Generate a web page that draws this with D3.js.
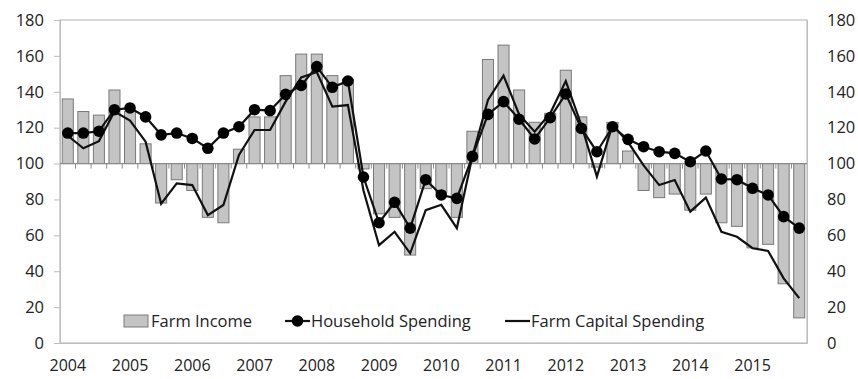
<!DOCTYPE html>
<html>
<head>
<meta charset="utf-8">
<script src="https://cdn.jsdelivr.net/npm/d3@7"></script>
<style>
  html, body { margin: 0; padding: 0; background: #fff; }
  svg { display: block; }
  text { font-family: "Open Sans", sans-serif; fill: #222; }
</style>
</head>
<body>
<svg id="chart" width="858" height="379"></svg>
<script>
const years = ["2004","2005","2006","2007","2008","2009","2010","2011","2012","2013","2014","2015"];
const quarters = years.flatMap(y => ["Q1","Q2","Q3","Q4"].map(q => y + q));
const yTicks = [0, 20, 40, 60, 80, 100, 120, 140, 160, 180];
const baseline = 100;

const farmIncome = [136,129,127,141, 129,111,78,91, 85,70,67,108, 126,126,149,161,
                    161,149,147,97, 72,70,49,86, 84,70,118,158, 166,141,123,128,
                    152,126,98,123, 107,85,81,83, 74,83,67,65, 53,55,33,14];
const household = [117,117,118,130, 131,126,116,117, 114,108.5,117,120.5, 130,129.5,138.6,143.5,
                   154,142.5,146,92.5, 67,78.4,64,91, 82.5,80.6,104,127.4, 134.5,124.7,113.7,125.6,
                   138.8,119.6,106.6,120.5, 113.5,109.4,106.6,105.7, 101,107,91.4,91, 86.2,82.5,70.4,64];
const capital = [115.5,108.5,112.5,129, 124,112.2,77.6,89, 88,71.3,76.9,104.8, 118.7,118.7,134.5,148,
                 151,131.7,132.6,85, 54.5,62,50,74, 77,64,104,135.4, 149,127.4,117.8,128,
                 146,121.5,92.7,121.5, 112,99,88,90.8, 73.2,81,62,59.2, 52.8,51.3,36,25];

const svg = d3.select("#chart");
const L = 60, R = 807, T = 20, B = 343;

const x = d3.scaleBand().domain(quarters).range([L, R]).paddingInner(0.29).paddingOuter(0.145);
const xPos = d3.scaleBand().domain(quarters).range([L, R]);
const y = d3.scaleLinear().domain([0, 180]).range([B, T]);
const cx = q => xPos(q) + xPos.bandwidth() / 2;

// plot border
svg.append("rect").attr("x", L).attr("y", T).attr("width", R - L).attr("height", B - T)
  .attr("fill", "none").attr("stroke", "#bdbdbd").attr("stroke-width", 1.2);

// left axis
const leftAxis = d3.axisLeft(y).tickValues(yTicks).tickSize(6).tickPadding(10);
const gL = svg.append("g").attr("transform", `translate(${L},0)`).call(leftAxis);
gL.select(".domain").attr("stroke", "#bdbdbd");
gL.selectAll(".tick line").attr("stroke", "#bdbdbd");
gL.selectAll("text").style("font-size", "16.5px").style("font-family", "'Open Sans', sans-serif").attr("fill", "#222");

// right axis
const rightAxis = d3.axisRight(y).tickValues(yTicks).tickSize(0).tickPadding(20);
const gR = svg.append("g").attr("transform", `translate(${R},0)`).call(rightAxis);
gR.select(".domain").attr("stroke", "#bdbdbd");
gR.selectAll("text").style("font-size", "16.5px").style("font-family", "'Open Sans', sans-serif").attr("fill", "#222");

// bars
svg.append("g").selectAll("rect").data(quarters).join("rect")
  .attr("x", q => x(q))
  .attr("width", x.bandwidth())
  .attr("y", (q, i) => y(Math.max(farmIncome[i], baseline)))
  .attr("height", (q, i) => Math.abs(y(farmIncome[i]) - y(baseline)))
  .attr("fill", "#c4c4c4").attr("stroke", "#7a7a7a").attr("stroke-width", 1);

// baseline at 100 with category ticks
svg.append("line").attr("x1", L).attr("x2", R).attr("y1", y(baseline)).attr("y2", y(baseline))
  .attr("stroke", "#8a8a8a").attr("stroke-width", 1.3);
svg.append("g").selectAll("line").data(quarters.slice(1)).join("line")
  .attr("x1", q => xPos(q)).attr("x2", q => xPos(q))
  .attr("y1", y(baseline)).attr("y2", y(baseline) + 5)
  .attr("stroke", "#8a8a8a").attr("stroke-width", 1);

// year labels (bottom axis)
const bottomAxis = d3.axisBottom(xPos).tickValues(quarters.filter(q => q.endsWith("Q1")))
  .tickFormat(q => q.slice(0, 4)).tickSize(0).tickPadding(17);
const gB = svg.append("g").attr("transform", `translate(0,${B})`).call(bottomAxis);
gB.select(".domain").attr("stroke", "#bdbdbd");
gB.selectAll("text").style("font-size", "16px").style("font-family", "'Open Sans', sans-serif").attr("fill", "#222");

// capital spending line
const line = d3.line().x(d => cx(d.q)).y(d => y(d.v));
svg.append("path").datum(quarters.map((q, i) => ({q, v: capital[i]})))
  .attr("d", line).attr("fill", "none").attr("stroke", "#111").attr("stroke-width", 2.2);

// household spending line + markers
const hh = quarters.map((q, i) => ({q, v: household[i]}));
svg.append("path").datum(hh).attr("d", line).attr("fill", "none").attr("stroke", "#111").attr("stroke-width", 2.2);
svg.append("g").selectAll("circle").data(hh).join("circle")
  .attr("cx", d => cx(d.q)).attr("cy", d => y(d.v)).attr("r", 5.8).attr("fill", "#000");

// legend
const lg = svg.append("g").style("font-size", "16.5px");
lg.append("rect").attr("x", 124).attr("y", 315).attr("width", 24).attr("height", 12)
  .attr("fill", "#c4c4c4").attr("stroke", "#7a7a7a");
lg.append("text").attr("x", 151).attr("y", 327).text("Farm Income");
lg.append("line").attr("x1", 285).attr("x2", 310).attr("y1", 321).attr("y2", 321).attr("stroke", "#111").attr("stroke-width", 2.2);
lg.append("circle").attr("cx", 297.5).attr("cy", 321).attr("r", 5.8).attr("fill", "#000");
lg.append("text").attr("x", 311).attr("y", 327).text("Household Spending");
lg.append("line").attr("x1", 505).attr("x2", 530).attr("y1", 321).attr("y2", 321).attr("stroke", "#111").attr("stroke-width", 2.2);
lg.append("text").attr("x", 531).attr("y", 327).text("Farm Capital Spending");
</script>
</body>
</html>
